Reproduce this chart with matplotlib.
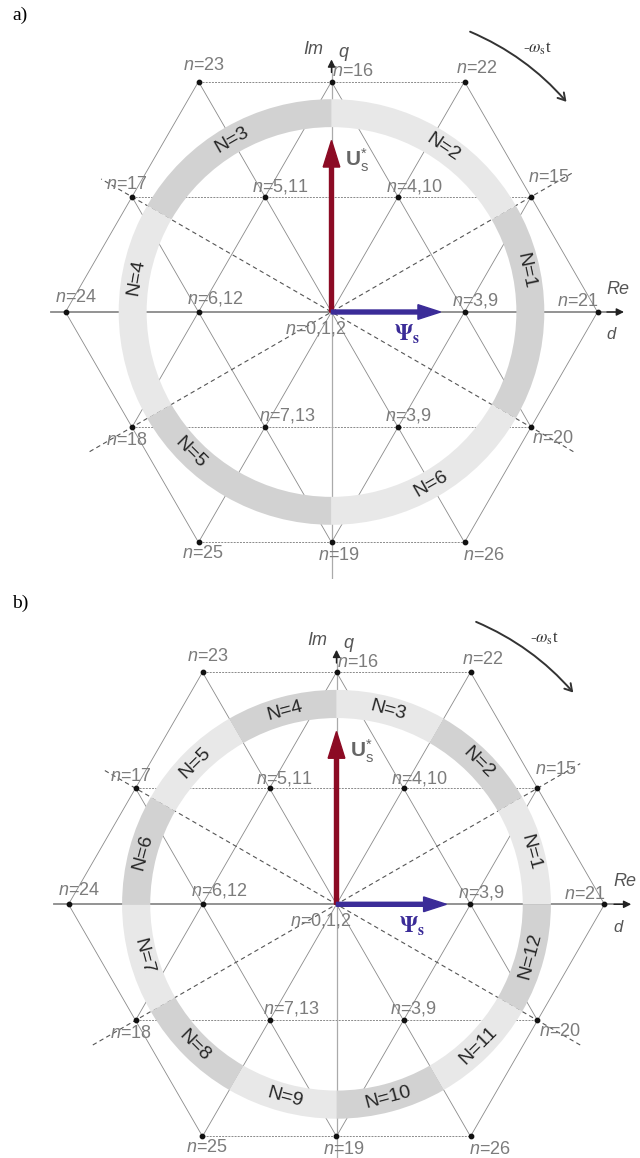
import numpy as np
import matplotlib
matplotlib.use("Agg")
import matplotlib.pyplot as plt
from matplotlib.patches import Wedge, FancyArrowPatch

plt.rcParams['font.family'] = ['Liberation Sans', 'DejaVu Sans']
plt.rcParams['mathtext.fontset'] = 'custom'
plt.rcParams['mathtext.rm'] = 'Liberation Sans'
plt.rcParams['mathtext.it'] = 'Liberation Sans:italic'
plt.rcParams['mathtext.bf'] = 'Liberation Sans:bold'

# space vectors of the 3-level inverter (angle in deg, radius in units)
inner_labels = ['3,9', '4,10', '5,11', '6,12', '7,13', '3,9']
inner_angles = [0, 60, 120, 180, 240, 300]
mid_labels = ['15', '16', '17', '18', '19', '20']
mid_angles = [30, 90, 150, 210, 270, 330]
outer_labels = ['21', '22', '23', '24', '25', '26']
outer_angles = [0, 60, 120, 180, 240, 300]
r_inner, r_mid, r_outer = 1.0, np.sqrt(3), 2.0
zero_label = '0,1,2'

# sectors
sectors_a = [1, 2, 3, 4, 5, 6]
sector_start_a = -30
sector_width_a = 60
label_angles_a = [12, 56, 120, 170, 225, 300]

sectors_b = list(range(1, 13))
sector_start_b = 0
sector_width_b = 30

# vectors
u_len = 1.29
psi_len = 0.82

ring_in, ring_out = 1.39, 1.60

GRAY = '#7c7c7c'
DARK = '#d2d2d2'
LIGHT = '#e8e8e8'
RED = '#8c0b24'
BLUE = '#3b2c98'

# label offsets in pixels (layout only)
off_inner = [(11, 12), (16, 10), (15, 10), (17, 14), (22, 12), (10, 12)]
off_mid = [(18, 19), (21, 10), (-5, 12), (-5, -13), (7, -13), (22, -11)]
off_outer = [(-20, 10), (12, 13), (5, 16), (11, 14), (4, -11), (19, -13)]


def pol(r, a):
    t = np.radians(a)
    return r * np.cos(t), r * np.sin(t)


def draw_panel(ax, sectors, start, width, label_angles, dark_odd):
    ax.set_aspect('equal')
    ax.axis('off')
    h = np.sqrt(3) / 2
    # lattice lines in 3 directions
    for phi in (0, 60, 120):
        c, s = np.cos(np.radians(phi)), np.sin(np.radians(phi))
        for k in (-2, -1, 0, 1, 2):
            if phi == 0 and k == 0:
                continue
            y = k * h
            xe = 2 - abs(k) / 2
            xs = np.array([-xe, xe])
            ys = np.array([y, y])
            X = xs * c - ys * s
            Y = xs * s + ys * c
            if phi == 0:
                ax.plot(X, Y, color='#8a8a8a', lw=0.7, ls=(0, (2, 1.2)), zorder=1)
            else:
                ax.plot(X, Y, color='#8a8a8a', lw=0.6, zorder=1)
    # dashed diagonals through origin
    for a, r1, r2 in ((30, 2.1, 2.1), (150, 2.0, 2.1)):
        x1, y1 = pol(r1, a)
        x2, y2 = pol(r2, a + 180)
        ax.plot([x2, x1], [y2, y1], color='#555555', lw=0.8,
                ls=(0, (4, 3)), zorder=1)
    # axes
    ax.plot([-2.11, 2.15], [0, 0], color='#8a8a8a', lw=1.3, zorder=1)
    ax.annotate('', xy=(2.22, 0), xytext=(2.05, 0),
                arrowprops=dict(arrowstyle='-|>', color='#222222', lw=1,
                                mutation_scale=11), zorder=2)
    ax.plot([0, 0], [-2.0, 1.85], color='#aaaaaa', lw=0.9, zorder=1)
    ax.annotate('', xy=(0, 1.92), xytext=(0, 1.78),
                arrowprops=dict(arrowstyle='-|>', color='#222222', lw=1,
                                mutation_scale=11), zorder=2)
    # ring sectors
    for i, n in enumerate(sectors):
        t1 = start + i * width
        dark = (n % 2 == 1) if dark_odd else (n % 2 == 0)
        ax.add_patch(Wedge((0, 0), ring_out, t1, t1 + width,
                           width=ring_out - ring_in,
                           facecolor=DARK if dark else LIGHT,
                           edgecolor='none', zorder=3))
        la = label_angles[i] if label_angles else t1 + width / 2
        lx, ly = pol((ring_in + ring_out) / 2, la)
        la_n = la % 360
        rot = la_n - 90 if la_n <= 180 else la_n + 90 - 360
        ax.text(lx, ly, f'N={n}', rotation=rot, ha='center', va='center',
                rotation_mode='anchor', fontsize=14, color='#262626', zorder=4)
    # points
    pts = []
    for labs, angs, r, offs in ((inner_labels, inner_angles, r_inner, off_inner),
                                (mid_labels, mid_angles, r_mid, off_mid),
                                (outer_labels, outer_angles, r_outer, off_outer)):
        for lab, a, o in zip(labs, angs, offs):
            x, y = pol(r, a)
            pts.append((x, y))
            ax.annotate(f'$n$={lab}', (x, y), xytext=o, textcoords='offset pixels',
                        ha='center', va='center', fontsize=13, color=GRAY, zorder=5)
    pts = np.array(pts)
    ax.scatter(pts[:, 0], pts[:, 1], s=10, color='#111111', zorder=6)
    ax.annotate(f'$n$={zero_label}', (0, 0), xytext=(-16, -16),
                textcoords='offset pixels', ha='center', va='center',
                fontsize=13, color=GRAY, zorder=5)
    # vectors
    ax.arrow(0, 0, 0, u_len, width=0.03, head_width=0.125, head_length=0.2,
             length_includes_head=True, color=RED, zorder=7)
    ax.arrow(0, 0, psi_len, 0, width=0.03, head_width=0.11, head_length=0.17,
             length_includes_head=True, color=BLUE, zorder=7)
    ax.text(0.10, 1.14, r'$\mathbf{U}^{*}_{\mathrm{s}}$', fontsize=15,
            color='#666666', ha='left', va='center', zorder=8)
    ax.text(0.47, -0.16, r'$\mathbf{\Psi}_{\mathbf{s}}$', fontsize=16,
            color=BLUE, ha='left', va='center', math_fontfamily='stix', zorder=8)
    # axis labels
    ax.text(-0.14, 1.97, 'Im', style='italic', fontsize=13, color='#555555',
            ha='center', va='center')
    ax.text(0.09, 1.95, 'q', style='italic', fontsize=13, color='#555555',
            ha='center', va='center')
    ax.text(2.15, 0.17, 'Re', style='italic', fontsize=13, color='#555555',
            ha='center', va='center')
    ax.text(2.1, -0.17, 'd', style='italic', fontsize=12, color='#555555',
            ha='center', va='center')
    # rotation arrow
    p1 = pol(2.35, 64.2)
    p2 = pol(2.37, 41.3)
    ax.add_patch(FancyArrowPatch(p1, p2, connectionstyle='arc3,rad=-0.12',
                                 arrowstyle='->,head_length=5,head_width=3',
                                 color='#333333', lw=1.4, zorder=2))
    ax.text(1.55, 1.98, r'-$\omega_{\rm s}$t', fontsize=12, color='#333333',
            ha='center', va='center', family='Liberation Serif',
            math_fontfamily='stix')


fig = plt.figure(figsize=(6.4, 11.58), dpi=100)
W, H = 640, 1158

# panel a
ax_a = fig.add_axes([0, 1 - 579 / H, 1, 579 / H])
ca, ua = (331.5, 312.0), 133.0
ax_a.set_xlim(-ca[0] / ua, (W - ca[0]) / ua)
ax_a.set_ylim(-(579 - ca[1]) / ua, ca[1] / ua)
draw_panel(ax_a, sectors_a, sector_start_a, sector_width_a, label_angles_a, True)

# panel b
ax_b = fig.add_axes([0, 0, 1, 579 / H])
cb, ub = (336.5, 904.3), 134.0
ax_b.set_xlim(-cb[0] / ub, (W - cb[0]) / ub)
ax_b.set_ylim(-(H - cb[1]) / ub, (cb[1] - 579) / ub)
draw_panel(ax_b, sectors_b, sector_start_b, sector_width_b, None, False)

fig.text(20 / W, 1 - 15 / H, 'a)', family='Liberation Serif', fontsize=14,
         ha='center', va='center')
fig.text(20 / W, 1 - 603 / H, 'b)', family='Liberation Serif', fontsize=14,
         ha='center', va='center')

fig.savefig('out.png', dpi=100)
